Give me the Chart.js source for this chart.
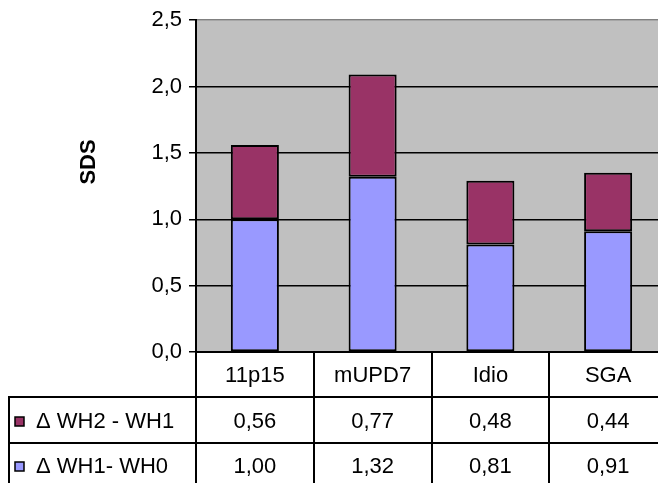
<!DOCTYPE html>
<html>
<head>
<meta charset="utf-8">
<script src="https://cdn.jsdelivr.net/npm/chart.js@4/dist/chart.umd.min.js"></script>
<style>
  html, body { margin: 0; padding: 0; background: #fff; overflow: hidden; }
  #wrap { width: 680px; height: 483px; }
</style>
</head>
<body>
<div id="wrap"><canvas id="c" width="680" height="483"></canvas></div>
<script>
// Groups and the two growth increments (SDS) per group
const categories = ['11p15', 'mUPD7', 'Idio', 'SGA'];
const wh1MinusWh0 = [1.00, 1.32, 0.81, 0.91];
const wh2MinusWh1 = [0.56, 0.77, 0.48, 0.44];
const seriesLabels = ['\u0394 WH1- WH0', '\u0394 WH2 - WH1'];
const yTicks = [0, 0.5, 1.0, 1.5, 2.0, 2.5];
const axisTitle = 'SDS';

const FONT = '"Liberation Sans", Arial, sans-serif';
const FONT_SIZE = 22;
const PLOT_BG = '#C0C0C0';
const COL_LOWER = '#9999FF';
const COL_UPPER = '#993366';

const fmt = (v, d) => v.toFixed(d).replace('.', ',');

// Plot background, y-axis title and the data table underneath
const decor = {
  id: 'decor',
  beforeDraw(chart) {
    const a = chart.chartArea, ctx = chart.ctx;
    ctx.save();
    ctx.fillStyle = PLOT_BG;
    ctx.fillRect(a.left, a.top, a.right - a.left, a.bottom - a.top);
    ctx.restore();
  },
  afterDraw(chart) {
    const a = chart.chartArea, ctx = chart.ctx, x = chart.scales.x;
    const catW = (a.right - a.left) / categories.length;
    const tableLeft = 9;
    const rowY = [a.bottom, 397, 443, 489];
    ctx.save();

    // axis title
    ctx.translate(89, 162);
    ctx.rotate(-Math.PI / 2);
    ctx.fillStyle = '#000';
    ctx.font = 'bold ' + FONT_SIZE + 'px ' + FONT;
    ctx.textAlign = 'center';
    ctx.textBaseline = 'middle';
    ctx.fillText(axisTitle, 0, 0);
    ctx.setTransform(1, 0, 0, 1, 0, 0);

    // table grid
    ctx.strokeStyle = '#000';
    ctx.lineWidth = 2;
    ctx.beginPath();
    for (let i = 0; i <= categories.length; i++) {
      const xx = Math.round(a.left + i * catW);
      ctx.moveTo(xx, a.bottom);
      ctx.lineTo(xx, 490);
    }
    ctx.moveTo(tableLeft, rowY[1] - 1);
    ctx.lineTo(tableLeft, 490);
    ctx.moveTo(a.left, a.bottom);
    ctx.lineTo(a.right, a.bottom);
    ctx.moveTo(tableLeft, rowY[1]);
    ctx.lineTo(a.right, rowY[1]);
    ctx.moveTo(tableLeft, rowY[2]);
    ctx.lineTo(a.right, rowY[2]);
    ctx.stroke();

    // table text
    ctx.font = FONT_SIZE + 'px ' + FONT;
    ctx.textAlign = 'center';
    ctx.textBaseline = 'middle';
    ctx.fillStyle = '#000';
    categories.forEach((c, i) => {
      ctx.fillText(c, x.getPixelForValue(i), 376);
    });
    const rows = [
      { label: seriesLabels[1], values: wh2MinusWh1, color: COL_UPPER, y: 422 },
      { label: seriesLabels[0], values: wh1MinusWh0, color: COL_LOWER, y: 467 }
    ];
    rows.forEach(r => {
      r.values.forEach((v, i) => {
        ctx.fillStyle = '#000';
        ctx.textAlign = 'center';
        ctx.fillText(fmt(v, 2), x.getPixelForValue(i), r.y);
      });
      // legend key
      ctx.fillStyle = r.color;
      ctx.fillRect(15, r.y - 5, 9, 9);
      ctx.lineWidth = 1.5;
      ctx.strokeStyle = '#000';
      ctx.strokeRect(15, r.y - 5, 9, 9);
      ctx.fillStyle = '#000';
      ctx.textAlign = 'left';
      ctx.fillText(r.label, 36, r.y);
    });
    ctx.restore();
  }
};

new Chart(document.getElementById('c'), {
  type: 'bar',
  data: {
    labels: categories,
    datasets: [
      {
        label: seriesLabels[0],
        data: wh1MinusWh0,
        backgroundColor: COL_LOWER,
        borderColor: '#000',
        borderWidth: 2,
        borderSkipped: false
      },
      {
        label: seriesLabels[1],
        data: wh2MinusWh1,
        backgroundColor: COL_UPPER,
        borderColor: '#000',
        borderWidth: 2,
        borderSkipped: false
      }
    ]
  },
  options: {
    responsive: false,
    animation: false,
    devicePixelRatio: 1,
    layout: { padding: { left: 0, top: 19, right: 13, bottom: 131 } },
    plugins: { legend: { display: false }, tooltip: { enabled: false } },
    datasets: { bar: { categoryPercentage: 1, barPercentage: 0.408 } },
    scales: {
      x: {
        stacked: true,
        display: false
      },
      y: {
        stacked: true,
        min: 0,
        max: 2.5,
        afterFit(s) { s.width = 196; },
        afterBuildTicks(s) { s.ticks = yTicks.map(v => ({ value: v })); },
        ticks: {
          color: '#000',
          font: { family: FONT, size: FONT_SIZE },
          padding: 7,
          callback: v => fmt(v, 1)
        },
        grid: {
          color: c => (c.tick && c.tick.value === 2.5) ? '#808080' : '#000',
          lineWidth: 1.5,
          tickColor: '#000',
          tickLength: 7,
          drawTicks: true
        },
        border: { display: true, color: '#000', width: 2 }
      }
    }
  },
  plugins: [decor]
});
</script>
</body>
</html>
